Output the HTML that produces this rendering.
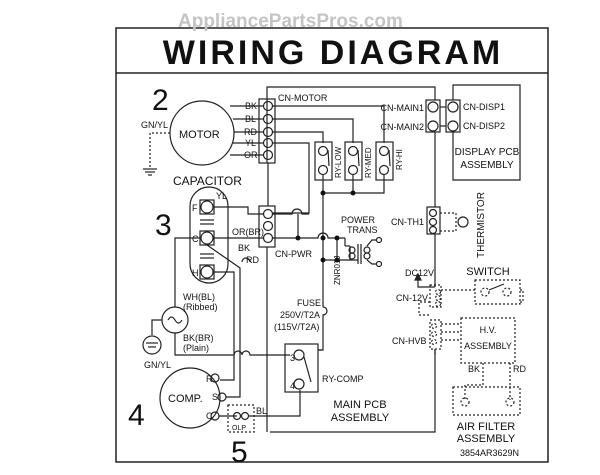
<!DOCTYPE html>
<html><head><meta charset="utf-8"><style>
html,body{margin:0;padding:0;background:#fff;}
svg{display:block;}
text{font-family:"Liberation Sans",sans-serif;fill:#111;}
</style></head><body>
<svg width="600" height="475" viewBox="0 0 600 475" xmlns="http://www.w3.org/2000/svg">
<g fill="none" stroke="#222" stroke-width="1.2">
<rect x="116" y="28" width="432" height="434" stroke-width="1.5"/>
<line x1="116" y1="73" x2="548" y2="73" stroke-width="1.5"/>
<polyline points="267,163 267,87 435,87 435,100"/>
<line x1="267" y1="247" x2="267" y2="432"/>
<polyline points="270,432 435,432 435,350"/>
<polyline points="453,100 453,85 520,85 520,180 453,180 453,132"/>
<circle cx="202" cy="133" r="32"/>
<line x1="230" y1="106" x2="263" y2="106"/><line x1="233" y1="119" x2="263" y2="119"/>
<line x1="234" y1="132" x2="263" y2="132"/><line x1="233" y1="143" x2="263" y2="143"/>
<line x1="230" y1="155" x2="263" y2="155"/>
<polyline points="170,133 150,133 150,168" stroke-dasharray="2,2"/>
<line x1="143" y1="169" x2="157" y2="169"/><line x1="145" y1="172" x2="155" y2="172"/><line x1="148" y1="175" x2="152" y2="175"/>
<rect x="259" y="99" width="16" height="64"/>
<circle cx="268" cy="106" r="4.5"/><circle cx="268" cy="119" r="4.5"/><circle cx="268" cy="132" r="4.5"/><circle cx="268" cy="143" r="4.5"/><circle cx="268" cy="155" r="4.5"/>
<line x1="268" y1="163" x2="268" y2="206"/>
<polyline points="272,106 384,106 384,143"/>
<polyline points="272,119 353,119 353,143"/>
<polyline points="272,132 323,132 323,143"/>
<polyline points="272,143 309,143 309,213 272,213" />
<rect x="315" y="142" width="17" height="38"/><rect x="345" y="142" width="17" height="38"/><rect x="376" y="142" width="17" height="38"/>
<circle cx="323" cy="151" r="4.5"/><circle cx="323" cy="170" r="4.5"/>
<circle cx="353" cy="151" r="4.5"/><circle cx="353" cy="170" r="4.5"/>
<circle cx="384" cy="151" r="4.5"/><circle cx="384" cy="170" r="4.5"/>
<line x1="328" y1="150" x2="329" y2="166"/><line x1="358" y1="150" x2="359" y2="166"/><line x1="389" y1="150" x2="390" y2="166"/>
<polyline points="323,175 323,307"/><polyline points="353,175 353,193 384,193 384,175"/><line x1="323" y1="193" x2="353" y2="193"/>
<path d="M323,307 a4,4 0 0 1 0,8 L323,318 L323,350 L318,350"/>
<circle cx="433" cy="107" r="5"/><circle cx="433" cy="126" r="5"/><circle cx="453" cy="107" r="5"/><circle cx="453" cy="126" r="5"/>
<rect x="426" y="100" width="14" height="32"/><rect x="446" y="100" width="14" height="32"/>
<line x1="440" y1="107" x2="446" y2="107"/><line x1="440" y1="126" x2="446" y2="126"/>
<line x1="435" y1="132" x2="435" y2="207"/>
<rect x="427" y="207" width="13" height="27"/>
<circle cx="433" cy="213" r="3.5"/><circle cx="433" cy="222" r="3.5"/><circle cx="433" cy="230" r="3.5"/>
<polyline points="440,213 456,213 456,231 440,231" stroke-dasharray="2,2"/>
<circle cx="463" cy="222" r="5"/>
<line x1="435" y1="234" x2="435" y2="287"/>
<rect x="190" y="187" width="38" height="96" rx="19"/>
<rect x="200" y="200" width="14" height="14"/><circle cx="207" cy="207" r="6"/>
<rect x="200" y="231" width="14" height="14"/><circle cx="207" cy="238" r="6"/>
<rect x="200" y="265" width="14" height="14"/><circle cx="207" cy="272" r="6"/>
<line x1="200" y1="220" x2="214" y2="220"/><line x1="200" y1="224" x2="214" y2="224"/>
<line x1="200" y1="254" x2="214" y2="254"/><line x1="200" y1="258" x2="214" y2="258"/>
<polyline points="213,207 248,207 248,214 263,214"/>
<line x1="213" y1="238" x2="263" y2="238"/>
<rect x="259" y="206" width="16" height="41"/>
<circle cx="268" cy="214" r="4.5"/><circle cx="268" cy="226" r="4.5"/><circle cx="268" cy="238" r="4.5"/>
<path d="M272,214 L292,214 a5,5 0 0 1 10,0 L309,214"/>
<path d="M272,238 L318,238 a5,5 0 0 1 10,0 L345,238"/>
<line x1="298" y1="214" x2="298" y2="238"/>
<polyline points="345,238 345,246"/><line x1="323" y1="260" x2="358" y2="260"/>
<line x1="337" y1="238" x2="337" y2="260"/>
<line x1="345" y1="246" x2="350" y2="246"/><line x1="350" y1="246" x2="350" y2="260"/>
<circle cx="352" cy="250" r="3"/><circle cx="352" cy="256" r="3"/>
<line x1="358" y1="244" x2="358" y2="264"/><line x1="361" y1="244" x2="361" y2="264"/>
<circle cx="367" cy="250" r="3"/><circle cx="367" cy="256" r="3"/>
<polyline points="367,246 372,240 377,240"/><polyline points="367,260 372,264 377,264"/>
<circle cx="379" cy="240" r="2.5"/><circle cx="379" cy="264" r="2.5"/>
<polyline points="201,238 175,238 175,307"/>
<circle cx="175" cy="320" r="13"/>
<path d="M168,320 q3.5,-6 7,0 t7,0"/>
<polyline points="162,320 152,320 152,335"/>
<circle cx="152" cy="345" r="9"/><line x1="146" y1="343" x2="158" y2="343"/><line x1="148" y1="347" x2="156" y2="347"/>
<path d="M175,333 L175,355 L234,355 a4,4 0 0 1 8,0 a4,4 0 0 1 8,0 L290,355"/>
<polyline points="213,272 234,272 234,380 220,380"/>
<path d="M207,245 L240,268 L240,397 L226,397"/>
<path d="M242,262 a4,4 0 0 1 8,0" />
<circle cx="190" cy="398" r="30"/>
<circle cx="215" cy="378" r="4"/><circle cx="222" cy="397" r="4"/><circle cx="215" cy="416" r="4"/>
<line x1="219" y1="416" x2="237" y2="416"/>
<rect x="228" y="405" width="26" height="27" stroke-dasharray="2,2"/>
<circle cx="237" cy="416" r="3.5"/><circle cx="245" cy="416" r="3.5"/>
<polyline points="249,416 300,416 300,390"/>
<rect x="285" y="344" width="33" height="48"/>
<circle cx="299" cy="355" r="5"/><circle cx="299" cy="384" r="5"/>
<line x1="304" y1="357" x2="311" y2="382"/>
<line x1="318" y1="350" x2="323" y2="350"/>
<polyline points="435,287 418,287 418,278"/><path d="M415,280 L418,274 L421,280 Z" fill="#222"/>
<g stroke-dasharray="2,2">
<rect x="430" y="285" width="11" height="22"/>
<rect x="430" y="320" width="11" height="29"/>
<polyline points="441,290 475,290"/><rect x="475" y="280" width="45" height="24"/>
<polyline points="520,290 523,290 523,302 520,302"/>
<polyline points="430,302 419,302 419,315 430,315"/>
<line x1="441" y1="324" x2="461" y2="324"/><line x1="441" y1="332" x2="461" y2="332"/><line x1="441" y1="340" x2="461" y2="340"/>
<rect x="461" y="318" width="54" height="45"/>
<polyline points="483,363 483,385 465,385 465,400"/><polyline points="510,363 510,400"/>
<rect x="453" y="387" width="67" height="28"/>
<circle cx="465" cy="402" r="4"/><circle cx="510" cy="402" r="4"/>
<circle cx="438" cy="292" r="2.5"/><circle cx="438" cy="298" r="2.5"/><circle cx="438" cy="304" r="2.5"/>
<circle cx="434" cy="326" r="2.5"/><circle cx="434" cy="334" r="2.5"/><circle cx="434" cy="342" r="2.5"/>
<circle cx="485" cy="292" r="4"/><circle cx="507" cy="292" r="4"/>
</g>
<line x1="489" y1="290" x2="504" y2="284"/>
<line x1="435" y1="349" x2="435" y2="355"/>
</g>
<g fill="#111">
<circle cx="323" cy="193" r="2.5"/><circle cx="353" cy="193" r="2.5"/>
<circle cx="298" cy="238" r="2.5"/><circle cx="337" cy="238" r="2.5"/><circle cx="323" cy="238" r="2.5"/>
<circle cx="323" cy="260" r="2.5"/><circle cx="337" cy="260" r="2.5"/>
</g>
<text x="178" y="27" font-size="19" font-weight="bold" style="fill:#c4c4c4">AppliancePartsPros.com</text>
<text x="333" y="64" font-size="34" font-weight="bold" text-anchor="middle" letter-spacing="3">WIRING DIAGRAM</text>
<g font-size="9">
<text x="278" y="101">CN-MOTOR</text>
<text x="245" y="109">BK</text><text x="245" y="122">BL</text><text x="244" y="135">RD</text><text x="245" y="146">YL</text><text x="244" y="158">OR</text>
<text x="141" y="128">GN/YL</text>
<text x="216" y="199">YL</text><text x="232" y="235">OR(BR)</text><text x="238" y="251">BK</text><text x="246" y="263">RD</text>
<text x="192" y="211">F</text><text x="192" y="242">C</text><text x="192" y="276">H</text>
<text x="275" y="257">CN-PWR</text>
<text x="424" y="111" text-anchor="end">CN-MAIN1</text><text x="424" y="130" text-anchor="end">CN-MAIN2</text>
<text x="463" y="110">CN-DISP1</text><text x="463" y="129">CN-DISP2</text>
<text x="424" y="225" text-anchor="end">CN-TH1</text>
<text x="341" y="223">POWER</text><text x="347" y="233">TRANS</text>
<text x="405" y="276">DC12V</text><text x="396" y="301">CN-12V</text><text x="392" y="344">CN-HVB</text>
<text x="297" y="306">FUSE</text><text x="280" y="318">250V/T2A</text><text x="274" y="330">(115V/T2A)</text>
<text x="183" y="300">WH(BL)</text><text x="183" y="310">(Ribbed)</text>
<text x="183" y="341">BK(BR)</text><text x="183" y="351">(Plain)</text>
<text x="144" y="368">GN/YL</text>
<text x="322" y="382">RY-COMP</text>
<text x="290" y="361">3</text><text x="290" y="389">4</text>
<text x="206" y="382">R</text><text x="212" y="400">S</text><text x="206" y="419">C</text>
<text x="256" y="414">BL</text><text x="232" y="430" font-size="7">OLP</text>
<text x="468" y="372">BK</text><text x="513" y="372">RD</text>
<text x="460" y="456">3854AR3629N</text>
</g>
<g font-size="8">
<text transform="translate(341,178) rotate(-90)">RY-LOW</text>
<text transform="translate(371,178) rotate(-90)">RY-MED</text>
<text transform="translate(402,170) rotate(-90)">RY-HI</text>
<text transform="translate(340,285) rotate(-90)">ZNR01J</text>
</g>
<g font-size="11">
<text x="179" y="138">MOTOR</text>
<text x="173" y="185" font-size="12">CAPACITOR</text>
<text x="168" y="402">COMP.</text>
<text x="487" y="155" text-anchor="middle" font-size="10">DISPLAY PCB</text><text x="487" y="168" text-anchor="middle" font-size="10">ASSEMBLY</text>
<text x="360" y="408" text-anchor="middle">MAIN PCB</text><text x="360" y="421" text-anchor="middle">ASSEMBLY</text>
<text x="488" y="275" text-anchor="middle">SWITCH</text>
<text x="488" y="333" text-anchor="middle" font-size="9">H.V.</text><text x="488" y="349" text-anchor="middle" font-size="9">ASSEMBLY</text>
<text x="486" y="430" text-anchor="middle">AIR FILTER</text><text x="486" y="442" text-anchor="middle">ASSEMBLY</text>
<text transform="translate(484,258) rotate(-90)" font-size="10">THERMISTOR</text>
</g>
<g font-size="30" style="font-family:'Liberation Serif',serif">
<text x="152" y="110">2</text><text x="155" y="235">3</text><text x="128" y="425">4</text><text x="231" y="462">5</text>
</g>
</svg>
</body></html>
